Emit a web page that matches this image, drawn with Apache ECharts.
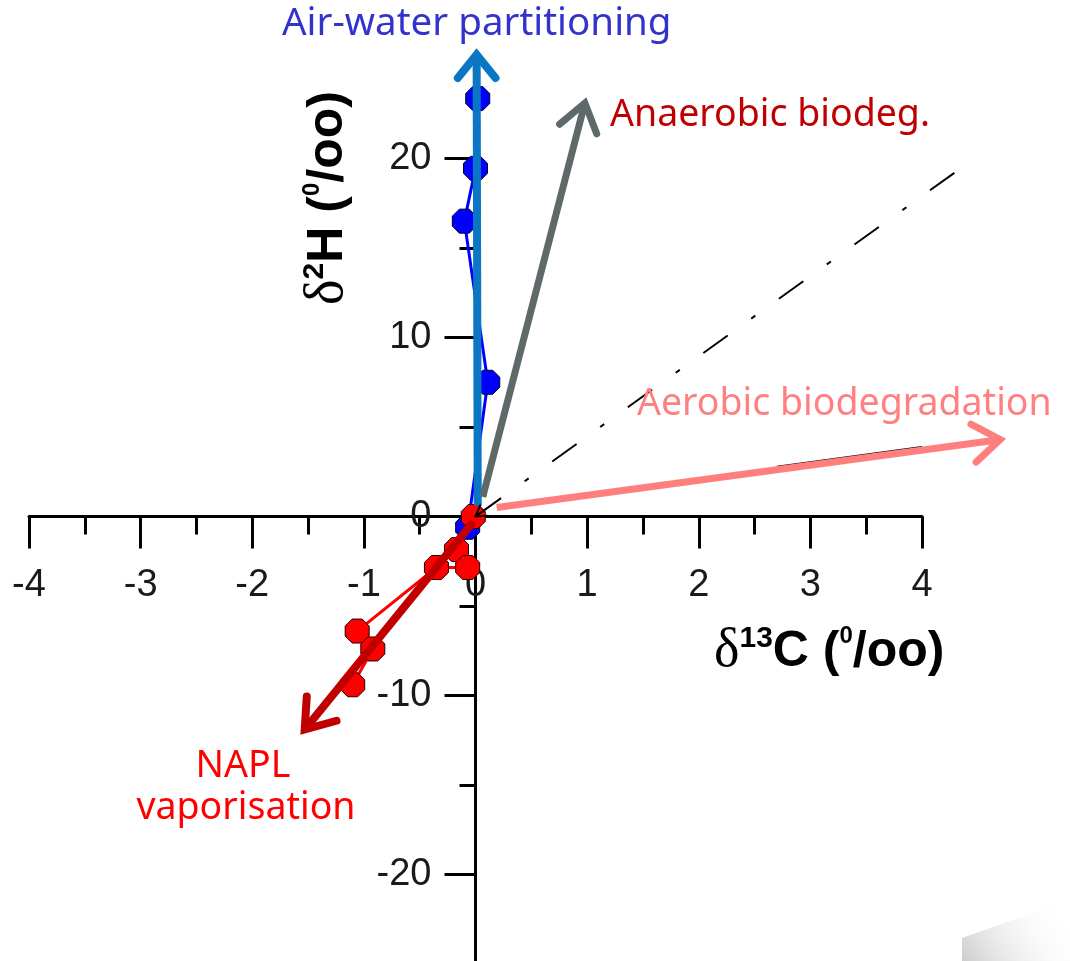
<!DOCTYPE html>
<html><head><meta charset="utf-8">
<script src="https://cdn.jsdelivr.net/npm/echarts@6/dist/echarts.min.js"></script>
<style>html,body{margin:0;padding:0;background:#fff}#c{width:1070px;height:961px}</style>
</head><body><div id="c"></div>
<script>
// ---- data ----
const xRange = [-4, 4];
const yRange = [-25, 25];
const yMajorTicks = [-20, -10, 0, 10, 20];
const yMinorTicks = [-15, -5, 5, 15];
const bluePoints = [[0.02, 23.35], [0.00, 19.45], [-0.10, 16.5], [0.11, 7.5], [-0.07, -0.6]];
const redPoints = [[-0.02, 0.0], [-0.17, -1.85], [-0.07, -2.85], [-0.35, -2.85], [-1.06, -6.4], [-0.92, -7.4], [-1.10, -9.4]];
const airWaterArrow = [[0.02, 0.6, 0.01, 25.8]];
const anaerobicArrow = [[0.065, 1.1, 0.98, 23.1]];
const aerobicArrow = [[0.19, 0.5, 4.70, 4.3]];
const naplArrow = [[-0.02, -0.3, -1.53, -11.9]];
const referenceLine = [[4.29, 19.2, 0, 0]];
const aerobicTrend = [[2.7, 2.78], [4.0, 3.88]];

// ---- layout ----
const W = 1070, H = 961;
const gridBox = { left: 29, top: 69, width: 893, height: 895 };
// put the axes through the origin (offset from grid edges)
const xAxisOffset = -gridBox.height * (0 - yRange[0]) / (yRange[1] - yRange[0]);
const yAxisOffset = -gridBox.width * (0 - xRange[0]) / (xRange[1] - xRange[0]);

const octagon = 'path://M-0.414,-1L0.414,-1L1,-0.414L1,0.414L0.414,1L-0.414,1L-1,0.414L-1,-0.414Z';

function arrowItem(opt) {
  return function (params, api) {
    const p0 = api.coord([api.value(0), api.value(1)]);
    const p1 = api.coord([api.value(2), api.value(3)]);
    const ang = Math.atan2(p1[1] - p0[1], p1[0] - p0[0]);
    const L = opt.head, a = opt.angle;
    const w1 = [p1[0] - L * Math.cos(ang - a), p1[1] - L * Math.sin(ang - a)];
    const w2 = [p1[0] - L * Math.cos(ang + a), p1[1] - L * Math.sin(ang + a)];
    const back = opt.back || 0;
    const e = [p1[0] - back * Math.cos(ang), p1[1] - back * Math.sin(ang)];
    return {
      type: 'group',
      children: [
        { type: 'line', shape: { x1: p0[0], y1: p0[1], x2: e[0], y2: e[1] },
          style: { stroke: opt.color, lineWidth: opt.width, lineDash: opt.dash || null, lineCap: 'butt', fill: null } },
        { type: 'polyline', shape: { points: [w1, p1, w2] },
          style: { stroke: opt.color, lineWidth: opt.headWidth || opt.width, fill: null, lineJoin: 'miter', lineCap: 'round' } }
      ]
    };
  };
}
function arrowSeries(data, opt, z) {
  return { type: 'custom', data: data, clip: false, z: z, silent: true,
    encode: { x: [0, 2], y: [1, 3] }, renderItem: arrowItem(opt) };
}

const chart = echarts.init(document.getElementById('c'), null, { renderer: 'canvas' });
const labelFont = { fontFamily: 'Liberation Sans', fontSize: 38, color: '#1a1a1a' };
const textFont = { fontFamily: 'Noto Sans', fontSize: 37.5 };
const option = {
  animation: false,
  backgroundColor: '#fff',
  grid: { left: gridBox.left, top: gridBox.top, right: W - gridBox.left - gridBox.width,
          bottom: H - gridBox.top - gridBox.height, containLabel: false, outerBoundsMode: 'none' },
  xAxis: {
    type: 'value', min: xRange[0], max: xRange[1], interval: 1, position: 'bottom', offset: xAxisOffset,
    axisLine: { onZero: false, lineStyle: { color: '#000', width: 3 } },
    axisTick: { length: 32, lineStyle: { color: '#000', width: 3 } },
    minorTick: { show: true, splitNumber: 2, length: 18, lineStyle: { color: '#000', width: 3 } },
    axisLabel: Object.assign({ margin: 50 }, labelFont),
    splitLine: { show: false }, minorSplitLine: { show: false }
  },
  yAxis: [{
    type: 'value', min: yRange[0], max: yRange[1], interval: 5, position: 'left', offset: yAxisOffset,
    axisLine: { onZero: false, lineStyle: { color: '#000', width: 3 } },
    axisTick: { length: 31, customValues: yMajorTicks, lineStyle: { color: '#000', width: 3 } },
    axisLabel: Object.assign({ margin: 44, customValues: yMajorTicks }, labelFont),
    splitLine: { show: false }
  }, {
    type: 'value', min: yRange[0], max: yRange[1], interval: 5, position: 'left', offset: yAxisOffset,
    axisLine: { show: false, onZero: false },
    axisTick: { length: 16, customValues: yMinorTicks, lineStyle: { color: '#000', width: 3 } },
    axisLabel: { show: false },
    splitLine: { show: false }
  }],
  series: [
    { type: 'line', data: aerobicTrend, symbol: 'none', z: 1, silent: true,
      lineStyle: { color: '#000', width: 2 } },
    { type: 'line', data: bluePoints, symbol: octagon, symbolSize: 24, z: 2,
      lineStyle: { color: '#0000FF', width: 3 },
      itemStyle: { color: '#0000FF', borderColor: '#000022', borderWidth: 1 } },
    { type: 'line', data: redPoints, symbol: octagon, symbolSize: 24, z: 2,
      lineStyle: { color: '#FF0000', width: 3 },
      itemStyle: { color: '#FF0000', borderColor: '#220000', borderWidth: 1 } },
    arrowSeries(airWaterArrow, { color: '#0B76C4', width: 8, head: 30, angle: 0.68, back: 3 }, 5),
    arrowSeries(anaerobicArrow, { color: '#5E6A6A', width: 7, head: 33, angle: 0.62, back: 3 }, 5),
    arrowSeries(aerobicArrow, { color: '#FF7F7F', width: 7, head: 33, angle: 0.62, back: 3 }, 5),
    arrowSeries(naplArrow, { color: '#C00000', width: 8, head: 33, angle: 0.62, back: 3 }, 5),
    arrowSeries(referenceLine, { color: '#000', width: 2, dash: [30, 29, 5, 29], head: 12, angle: 0.55, headWidth: 2 }, 6)
  ],
  graphic: [
    { type: 'polygon', z: 0, silent: true,
      shape: { points: [[962, 961], [962, 938], [1070, 900], [1070, 961]] },
      style: { fill: { type: 'linear', x: 0, y: 1, x2: 0.9, y2: 0,
        colorStops: [{ offset: 0, color: '#cdcdcd' }, { offset: 1, color: 'rgba(255,255,255,0)' }] } } },
    { type: 'text', z: 10, x: 282, y: 24, style: Object.assign({ text: 'Air-water partitioning', fill: '#3333CC',
      align: 'left', verticalAlign: 'middle' }, textFont, { fontSize: 38.5 }) },
    { type: 'text', z: 10, x: 610, y: 115, style: Object.assign({ text: 'Anaerobic biodeg.', fill: '#C00000',
      align: 'left', verticalAlign: 'middle' }, textFont) },
    { type: 'text', z: 10, x: 637, y: 404, style: Object.assign({ text: 'Aerobic biodegradation', fill: '#FF8080',
      align: 'left', verticalAlign: 'middle' }, textFont) },
    { type: 'text', z: 10, x: 243, y: 766, style: Object.assign({ text: 'NAPL', fill: '#FF0000',
      align: 'center', verticalAlign: 'middle' }, textFont) },
    { type: 'text', z: 10, x: 246, y: 808, style: Object.assign({ text: 'vaporisation', fill: '#FF0000',
      align: 'center', verticalAlign: 'middle' }, textFont) },
    { type: 'text', z: 10, x: 714, y: 652, style: {
      text: '{d|δ}{s|13}{b|C (}{s2|0}{b|/oo)}', align: 'left', verticalAlign: 'middle',
      rich: {
        d: { fontFamily: 'Liberation Serif', fontSize: 54, lineHeight: 56, fill: '#000' },
        s: { fontFamily: 'Liberation Sans', fontWeight: 'bold', fontSize: 30, lineHeight: 22, verticalAlign: 'top', fill: '#000' },
        b: { fontFamily: 'Liberation Sans', fontWeight: 'bold', fontSize: 50, lineHeight: 56, fill: '#000' },
        s2: { fontFamily: 'Liberation Sans', fontWeight: 'bold', fontSize: 24, lineHeight: 20, verticalAlign: 'top', fill: '#000' }
      } } },
    { type: 'text', z: 10, x: 328, y: 198, rotation: Math.PI / 2, style: {
      text: '{d|δ}{s|2}{b|H (}{s2|0}{b|/oo)}', align: 'center', verticalAlign: 'middle',
      rich: {
        d: { fontFamily: 'Liberation Serif', fontSize: 54, lineHeight: 56, fill: '#000' },
        s: { fontFamily: 'Liberation Sans', fontWeight: 'bold', fontSize: 30, lineHeight: 22, verticalAlign: 'top', fill: '#000' },
        b: { fontFamily: 'Liberation Sans', fontWeight: 'bold', fontSize: 50, lineHeight: 56, fill: '#000' },
        s2: { fontFamily: 'Liberation Sans', fontWeight: 'bold', fontSize: 24, lineHeight: 20, verticalAlign: 'top', fill: '#000' }
      } } }
  ]
};
chart.setOption(option);
</script></body></html>
